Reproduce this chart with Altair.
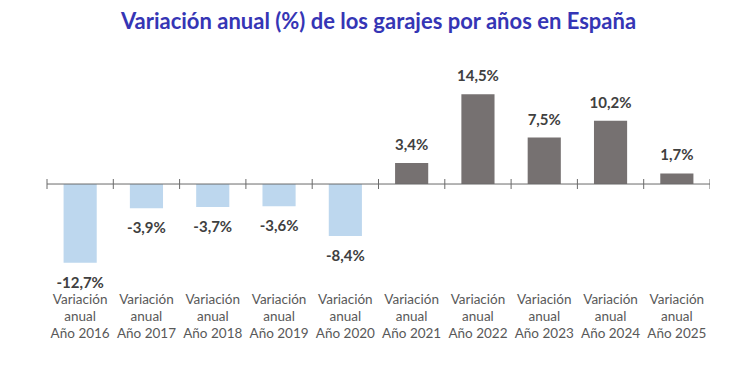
import altair as alt
import pandas as pd

anios = ["2016", "2017", "2018", "2019", "2020", "2021", "2022", "2023", "2024", "2025"]
valores = [-12.7, -3.9, -3.7, -3.6, -8.4, 3.4, 14.5, 7.5, 10.2, 1.7]
titulo = "Variación anual (%) de los garajes por años en España"

df = pd.DataFrame({
    "cat": ["Variación\nanual\nAño " + a for a in anios],
    "valor": valores,
    "etiqueta": [f"{v:.1f}".replace(".", ",") + "%" for v in valores],
})

W, H = 663, 344
xenc = alt.X("cat:N", sort=None, axis=None, scale=alt.Scale(paddingInner=0, paddingOuter=0))
yscale = alt.Scale(domain=[-27.1, 28.4], nice=False, zero=False)
yenc = alt.Y("valor:Q", axis=None, scale=yscale)

base = alt.Chart(df)

bars = base.mark_bar(width=alt.RelativeBandSize(0.5)).encode(
    x=xenc,
    y=yenc,
    y2=alt.datum(0),
    color=alt.condition(alt.datum.valor < 0, alt.value("#BDD7EE"), alt.value("#767171")),
)

pos_lab = base.transform_filter(alt.datum.valor >= 0).mark_text(
    font="Lato", fontWeight="bold", fontSize=15, color="#404040", baseline="middle", dy=-18
).encode(x=xenc, y=yenc, text="etiqueta:N")

neg_lab = base.transform_filter(alt.datum.valor < 0).mark_text(
    font="Lato", fontWeight="bold", fontSize=15, color="#404040", baseline="middle", dy=20
).encode(x=xenc, y=yenc, text="etiqueta:N")

axis_line = alt.Chart(pd.DataFrame({"z": [0]})).mark_rule(color="#6b6b6b", strokeWidth=1).encode(
    x=alt.value(0), x2=alt.value(W), y=alt.Y("z:Q", axis=None, scale=yscale)
)

ticks = base.mark_rule(color="#6b6b6b", strokeWidth=1).encode(
    x=alt.X("cat:N", sort=None, axis=None, bandPosition=0,
            scale=alt.Scale(paddingInner=0, paddingOuter=0)),
    y=alt.value(171), y2=alt.value(181),
)
last_tick = alt.Chart(pd.DataFrame({"z": [0]})).mark_rule(color="#6b6b6b", strokeWidth=1).encode(
    x=alt.value(W), y=alt.value(171), y2=alt.value(181)
)

cat_lab = base.mark_text(
    font="Lato", fontSize=13.5, color="#595959", baseline="top", lineBreak="\n", lineHeight=17
).encode(x=xenc, y=alt.value(285), text="cat:N")

title = alt.Chart(pd.DataFrame({"t": [titulo]})).mark_text(
    font="Lato", fontWeight="bold", fontSize=22, color="#3535B5", baseline="middle", align="center"
).encode(x=alt.value(W / 2), y=alt.value(14), text="t:N")

chart = alt.layer(bars, axis_line, ticks, last_tick, pos_lab, neg_lab, cat_lab, title).properties(
    width=W, height=H,
    padding={"left": 39, "top": 0, "right": 0, "bottom": 0},
    autosize=alt.AutoSizeParams(type="none"),
).configure_view(stroke=None)

chart.save("out.html", embed_options={"renderer": "svg", "actions": False})
